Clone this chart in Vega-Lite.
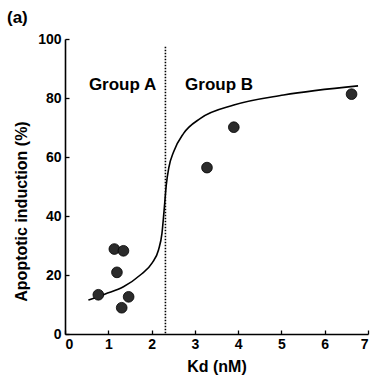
{
  "$schema": "https://vega.github.io/schema/vega-lite/v6.json",
  "width": 303,
  "height": 295,
  "autosize": {"type": "none"},
  "padding": {"left": 65, "top": 39, "right": 6, "bottom": 48},
  "background": "white",
  "config": {
    "view": {"stroke": null},
    "font": "Liberation Sans",
    "axis": {
      "grid": false,
      "domainColor": "black",
      "domainWidth": 1.6,
      "tickColor": "black",
      "tickWidth": 1.3,
      "labelColor": "black",
      "labelFont": "Liberation Sans",
      "labelFontWeight": "bold",
      "labelFontSize": 14,
      "titleFont": "Liberation Sans",
      "titleFontWeight": "bold",
      "titleFontSize": 16,
      "titleColor": "black"
    }
  },
  "title": {
    "text": "(a)",
    "anchor": "start",
    "frame": "group",
    "dx": -58,
    "offset": 5,
    "fontSize": 17,
    "fontWeight": "bold",
    "font": "Liberation Sans",
    "color": "black"
  },
  "datasets": {
    "points": [
      {"kd": 0.77, "induction": 13.3},
      {"kd": 1.2, "induction": 20.9},
      {"kd": 1.31, "induction": 8.9},
      {"kd": 1.47, "induction": 12.6},
      {"kd": 1.14, "induction": 28.8},
      {"kd": 1.35, "induction": 28.2},
      {"kd": 3.28, "induction": 56.4},
      {"kd": 3.9, "induction": 70.1},
      {"kd": 6.62, "induction": 81.3}
    ],
    "curve": [
      {"kd": 0.54, "induction": 11.5},
      {"kd": 0.93, "induction": 13.6},
      {"kd": 1.35, "induction": 16.0},
      {"kd": 1.74, "induction": 20.0},
      {"kd": 2.01, "induction": 24.0},
      {"kd": 2.16, "induction": 28.5},
      {"kd": 2.24, "induction": 34.1},
      {"kd": 2.29, "induction": 42.0},
      {"kd": 2.34, "induction": 50.5},
      {"kd": 2.40, "induction": 56.5},
      {"kd": 2.51, "induction": 61.8},
      {"kd": 2.74, "induction": 68.0},
      {"kd": 3.13, "induction": 73.1},
      {"kd": 3.9, "induction": 77.6},
      {"kd": 5.05, "induction": 81.0},
      {"kd": 6.77, "induction": 84.1}
    ],
    "divider": [
      {"kd": 2.32, "top": 97.4, "bottom": 0}
    ],
    "groups": [
      {"kd": 1.33, "induction": 84.5, "label": "Group A"},
      {"kd": 3.56, "induction": 84.5, "label": "Group B"}
    ]
  },
  "layer": [
    {
      "data": {"name": "divider"},
      "mark": {"type": "rule", "color": "black", "strokeWidth": 1.6, "strokeDash": [1.5, 1.5]},
      "encoding": {
        "x": {"field": "kd", "type": "quantitative", "scale": {"domain": [0, 7]}},
        "y": {"field": "top", "type": "quantitative", "scale": {"domain": [0, 100]}},
        "y2": {"field": "bottom"}
      }
    },
    {
      "data": {"name": "curve"},
      "mark": {"type": "line", "color": "black", "strokeWidth": 1.6, "interpolate": "monotone"},
      "encoding": {
        "x": {"field": "kd", "type": "quantitative"},
        "y": {"field": "induction", "type": "quantitative"}
      }
    },
    {
      "data": {"name": "points"},
      "mark": {"type": "circle", "size": 115, "color": "#2b2b2b", "opacity": 1, "stroke": "black", "strokeWidth": 0.8},
      "encoding": {
        "x": {
          "field": "kd", "type": "quantitative",
          "scale": {"domain": [0, 7], "nice": false},
          "axis": {"values": [0, 1, 2, 3, 4, 5, 6, 7], "tickSize": -4, "labelPadding": 7, "title": "Kd (nM)", "titlePadding": 7}
        },
        "y": {
          "field": "induction", "type": "quantitative",
          "scale": {"domain": [0, 100], "nice": false},
          "axis": {"values": [0, 20, 40, 60, 80, 100], "tickSize": -4, "labelPadding": 8, "title": "Apoptotic induction (%)", "titleY": 172, "titleX": -44, "titleBaseline": "middle"}
        }
      }
    },
    {
      "data": {"name": "groups"},
      "mark": {"type": "text", "fontSize": 17, "fontWeight": "bold", "font": "Liberation Sans", "color": "black", "align": "center", "baseline": "middle"},
      "encoding": {
        "x": {"field": "kd", "type": "quantitative"},
        "y": {"field": "induction", "type": "quantitative"},
        "text": {"field": "label"}
      }
    }
  ]
}
